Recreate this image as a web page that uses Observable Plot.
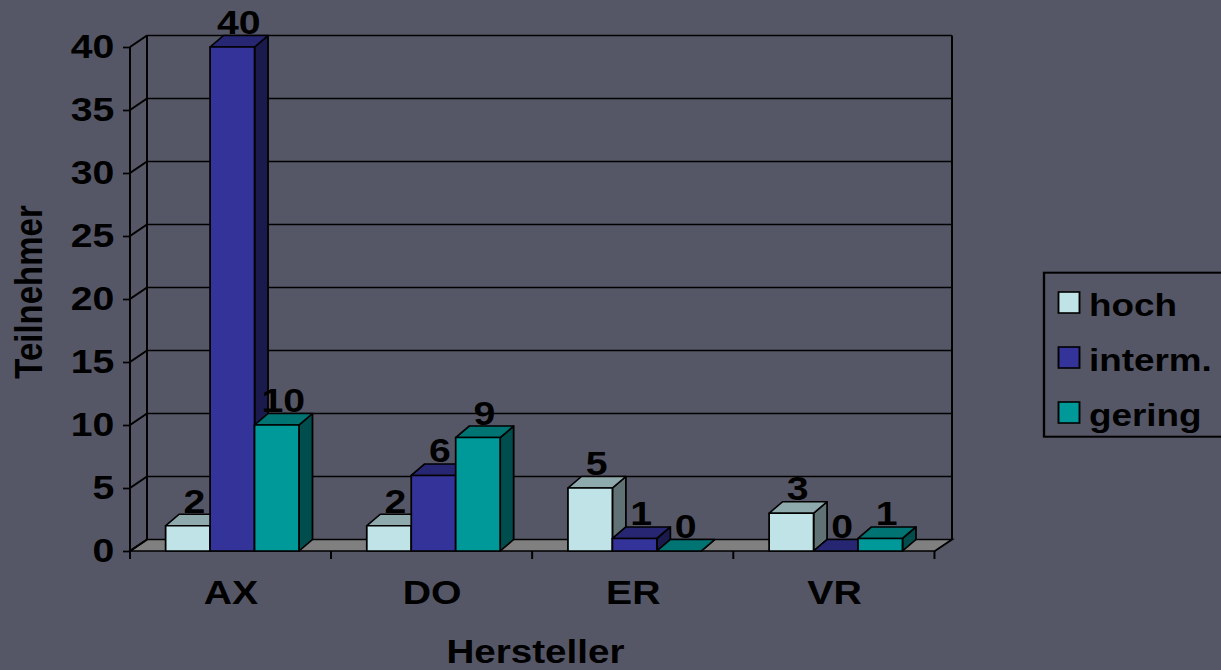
<!DOCTYPE html>
<html>
<head>
<meta charset="utf-8">
<script src="https://cdn.jsdelivr.net/npm/d3@7"></script>
<script src="https://cdn.jsdelivr.net/npm/@observablehq/plot@0.6"></script>
<style>
  html, body { margin: 0; padding: 0; background: #555766; overflow: hidden; }
  #chart svg { display: block; }
</style>
</head>
<body>
<div id="chart"></div>
<script>
// ---- data ----
const categories = ["AX", "DO", "ER", "VR"];
const seriesNames = ["hoch", "interm.", "gering"];
const hoch = [2, 2, 5, 3];
const interm = [40, 6, 1, 0];
const gering = [10, 9, 0, 1];
const yTicks = [0, 5, 10, 15, 20, 25, 30, 35, 40];
const seriesColors = ["#bfe3e6", "#333399", "#009999"];
const xTitle = "Hersteller";
const yTitle = "Teilnehmer";

const seriesValues = [hoch, interm, gering];
const rows = [];
categories.forEach((c, i) => {
  seriesValues.forEach((arr, s) => rows.push({cat: c, series: seriesNames[s], s, value: arr[i]}));
});

// ---- layout ----
const W = 1044, H = 670, SX = 1221 / W;       // picture is stretched horizontally
const mL = 130 / SX, mR = W - 935 / SX, mT = 47, mB = H - 551;
const FONT = "Arial, 'Liberation Sans', Helvetica, sans-serif";
const FS = 33.5;
const wall = {dx: 17 / SX, dy: -11.5};
const depth = {dx: 13.5 / SX, dy: -11.5};
const groupStart = 0.178, barFrac = 0.221;
const bw = (W - mL - mR) / categories.length;
const shade = (c, k) => { const r = d3.rgb(c); return d3.rgb(r.r * k, r.g * k, r.b * k).formatHex(); };

// 3D frame: floor, back wall, side wall lines, front axis lines
function frame3d(index, scales, values, dims) {
  const y = scales.y;
  const x0 = dims.marginLeft, x1 = dims.width - dims.marginRight;
  const yb = y(0), ytop = y(d3.max(yTicks));
  const g = d3.create("svg:g").attr("fill", "none").attr("stroke", "#000").attr("stroke-width", 1.7);
  g.append("path")
    .attr("d", `M${x0},${yb}L${x1},${yb}L${x1 + wall.dx},${yb + wall.dy}L${x0 + wall.dx},${yb + wall.dy}Z`)
    .attr("fill", "#808080");
  for (const t of yTicks) {
    const yy = y(t);
    if (t > 0) g.append("line").attr("x1", x0 + wall.dx).attr("x2", x1 + wall.dx).attr("y1", yy + wall.dy).attr("y2", yy + wall.dy);
    g.append("line").attr("x1", x0).attr("x2", x0 + wall.dx).attr("y1", yy).attr("y2", yy + wall.dy);
  }
  g.append("line").attr("x1", x0 + wall.dx).attr("x2", x0 + wall.dx).attr("y1", yb + wall.dy).attr("y2", ytop + wall.dy);
  g.append("line").attr("x1", x1 + wall.dx).attr("x2", x1 + wall.dx).attr("y1", yb + wall.dy).attr("y2", ytop + wall.dy);
  // front vertical axis
  g.append("line").attr("x1", x0).attr("x2", x0).attr("y1", ytop).attr("y2", yb + 8);
  // category boundary ticks
  const xs = scales.x;
  const band = xs.bandwidth ? xs.bandwidth() : bw;
  categories.forEach((c) => {
    const xb = xs(c) + band;
    g.append("line").attr("x1", xb).attr("x2", xb).attr("y1", yb).attr("y2", yb + 8);
  });
  return g.node();
}

// 3D bars: side, top, front faces
function bars3d(index, scales, values, dims) {
  const {x, y} = scales;
  const band = x.bandwidth ? x.bandwidth() : bw;
  const g = d3.create("svg:g").attr("stroke", "#000").attr("stroke-width", 1.5).attr("stroke-linejoin", "round");
  for (const r of rows) {
    const xl = x(r.cat) + band * (groupStart + r.s * barFrac);
    const xr = xl + band * barFrac;
    const yt = y(r.value), yb = y(0);
    const col = seriesColors[r.s];
    g.append("path")
      .attr("d", `M${xr},${yb}L${xr + depth.dx},${yb + depth.dy}L${xr + depth.dx},${yt + depth.dy}L${xr},${yt}Z`)
      .attr("fill", shade(col, 0.5));
    g.append("path")
      .attr("d", `M${xl},${yt}L${xr},${yt}L${xr + depth.dx},${yt + depth.dy}L${xl + depth.dx},${yt + depth.dy}Z`)
      .attr("fill", shade(col, 0.75));
    if (yb - yt > 0.5) {
      g.append("rect").attr("x", xl).attr("y", yt).attr("width", xr - xl).attr("height", yb - yt).attr("fill", col);
    }
  }
  return g.node();
}

// legend box (extends to the right edge, as in the original)
function legend(index, scales, values, dims) {
  const g = d3.create("svg:g").attr("text-anchor", "start");
  const bx = 1044 / SX, by = 272.7, bh = 164;
  g.append("rect").attr("x", bx).attr("y", by).attr("width", W - bx + 10).attr("height", bh)
    .attr("fill", "none").attr("stroke", "#000").attr("stroke-width", 2);
  seriesNames.forEach((name, i) => {
    const cy = 302.5 + i * 55;
    g.append("rect").attr("x", 1058.5 / SX).attr("y", cy - 10.5).attr("width", 21 / SX).attr("height", 21)
      .attr("fill", seriesColors[i]).attr("stroke", "#000").attr("stroke-width", 1.6);
    g.append("text").attr("x", 1089 / SX).attr("y", cy).attr("dy", "0.42em")
      .attr("text-anchor", "start")
      .attr("font-family", FONT).attr("font-size", 31.5).attr("font-weight", "bold").attr("fill", "#000")
      .text(name);
  });
  return g.node();
}

const labelMarks = seriesNames.map((name, s) =>
  Plot.text(rows.filter(d => d.s === s), {
    x: "cat", y: "value", text: d => String(d.value),
    dx: bw * (groupStart + (s + 0.5) * barFrac - 0.5) + 5,
    dy: depth.dy - 2,
    lineAnchor: "bottom", textAnchor: "middle",
    fill: "#000", fontSize: FS, fontWeight: "bold"
  })
);

const svg = Plot.plot({
  width: W, height: H,
  marginLeft: mL, marginRight: mR, marginTop: mT, marginBottom: mB,
  style: {background: "transparent", color: "#000", fontFamily: FONT, fontSize: FS + "px", fontWeight: "bold"},
  x: {type: "band", domain: categories, padding: 0, label: null},
  y: {domain: [0, 40], label: null},
  marks: [
    frame3d,
    Plot.axisY({ticks: yTicks, tickSize: 6, tickPadding: 8, strokeWidth: 1.7, fontSize: FS, fontWeight: "bold", label: null, tickFormat: d => String(d)}),
    Plot.axisX({tickSize: 0, tickPadding: 29, fontSize: FS, fontWeight: "bold", label: null}),
    bars3d,
    ...labelMarks,
    Plot.text([yTitle], {frameAnchor: "left", rotate: -90, dx: 29 / SX - mL, dy: -7.5, textAnchor: "middle", lineAnchor: "middle", fontSize: 33, fontWeight: "bold", fill: "#000"}),
    Plot.text([xTitle], {frameAnchor: "bottom", dx: 2, dy: 111, textAnchor: "middle", lineAnchor: "bottom", fontSize: 33, fontWeight: "bold", fill: "#000"}),
    legend
  ]
});
svg.setAttribute("width", 1221);
svg.setAttribute("height", 670);
svg.setAttribute("preserveAspectRatio", "none");
svg.style.width = "1221px";
svg.style.height = "670px";
svg.style.maxWidth = "none";
document.getElementById("chart").appendChild(svg);
</script>
</body>
</html>
